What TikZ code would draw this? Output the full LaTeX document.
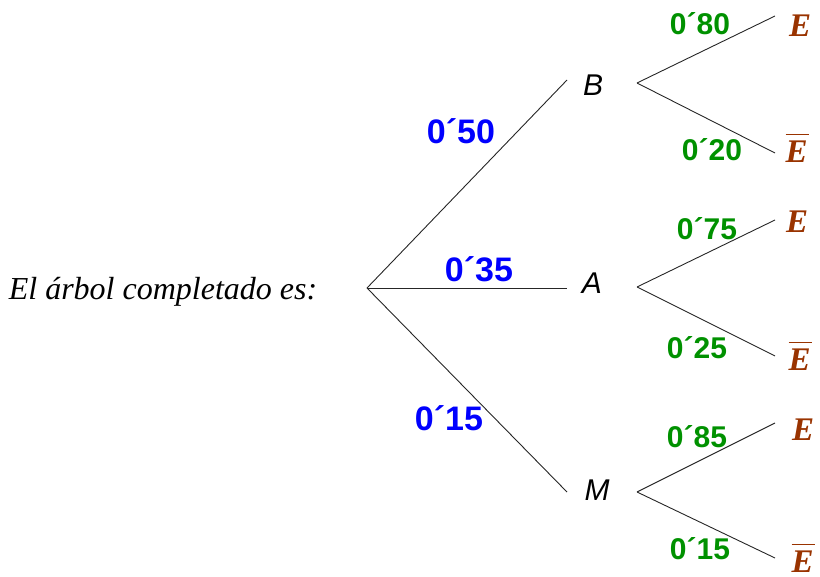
\documentclass[tikz,border=0pt]{standalone}
\usepackage{fontspec}
\setmainfont{Liberation Serif}
\setsansfont{Liberation Sans}
\definecolor{probblue}{RGB}{0,0,255}
\definecolor{probgreen}{RGB}{0,145,0}
\definecolor{evbrown}{RGB}{153,51,0}
\newcommand{\notE}{\vbox{\hrule height 1.4pt\kern 5pt\hbox{E\kern1pt}}}
\begin{document}
\begin{tikzpicture}[x=1pt,y=-1pt,
  branch/.style={draw=black!85,line width=0.9pt},
  bluelab/.style={text=probblue,font=\sffamily\bfseries\fontsize{34}{38}\selectfont,inner sep=0pt},
  greenlab/.style={text=probgreen,font=\sffamily\bfseries\fontsize{30}{34}\selectfont,inner sep=0pt},
  catlab/.style={font=\sffamily\itshape\fontsize{30}{33}\selectfont,inner sep=0pt},
  evlab/.style={text=evbrown,font=\rmfamily\bfseries\itshape\fontsize{33}{36}\selectfont,inner sep=0pt},
  intro/.style={font=\rmfamily\itshape\fontsize{32}{36}\selectfont,inner sep=0pt}]
\useasboundingbox (0,0) rectangle (820,577);
% intro text
\node[intro] (txt) at (163,292) {El árbol completado es:};
% first level
\coordinate (root) at (367,288);
\coordinate (bEnd) at (567,80);
\coordinate (aEnd) at (567,288);
\coordinate (mEnd) at (567,492);
\draw[branch] (root) -- (bEnd);
\draw[branch] (root) -- (aEnd);
\draw[branch] (root) -- (mEnd);
\node[catlab] (B) at (593,85) {B};
\node[catlab] (A) at (592,283) {A};
\node[catlab] (M) at (597,490) {M};
\node[bluelab] (pB) at (461,131) {0´50};
\node[bluelab] (pA) at (479,269) {0´35};
\node[bluelab] (pM) at (449,418) {0´15};
% second level
\coordinate (bRoot) at (637,83);
\coordinate (aRoot) at (637,287);
\coordinate (mRoot) at (637,492);
\coordinate (bE) at (775,16);
\coordinate (bNE) at (775,153);
\coordinate (aE) at (775,220);
\coordinate (aNE) at (775,356);
\coordinate (mE) at (775,423);
\coordinate (mNE) at (775,558);
\draw[branch] (bRoot) -- (bE);
\draw[branch] (bRoot) -- (bNE);
\draw[branch] (aRoot) -- (aE);
\draw[branch] (aRoot) -- (aNE);
\draw[branch] (mRoot) -- (mE);
\draw[branch] (mRoot) -- (mNE);
\node[evlab] (EB) at (800,26) {E};
\node[evlab] (NEB) at (797,148) {\notE};
\node[evlab] (EA) at (797,222) {E};
\node[evlab] (NEA) at (800,356) {\notE};
\node[evlab] (EM) at (803,430) {E};
\node[evlab] (NEM) at (803,558) {\notE};
\node[greenlab] (p1) at (700,24) {0´80};
\node[greenlab] (p2) at (712,150) {0´20};
\node[greenlab] (p3) at (707,229) {0´75};
\node[greenlab] (p4) at (697,348) {0´25};
\node[greenlab] (p5) at (697,437) {0´85};
\node[greenlab] (p6) at (700,549) {0´15};
\end{tikzpicture}
\end{document}
